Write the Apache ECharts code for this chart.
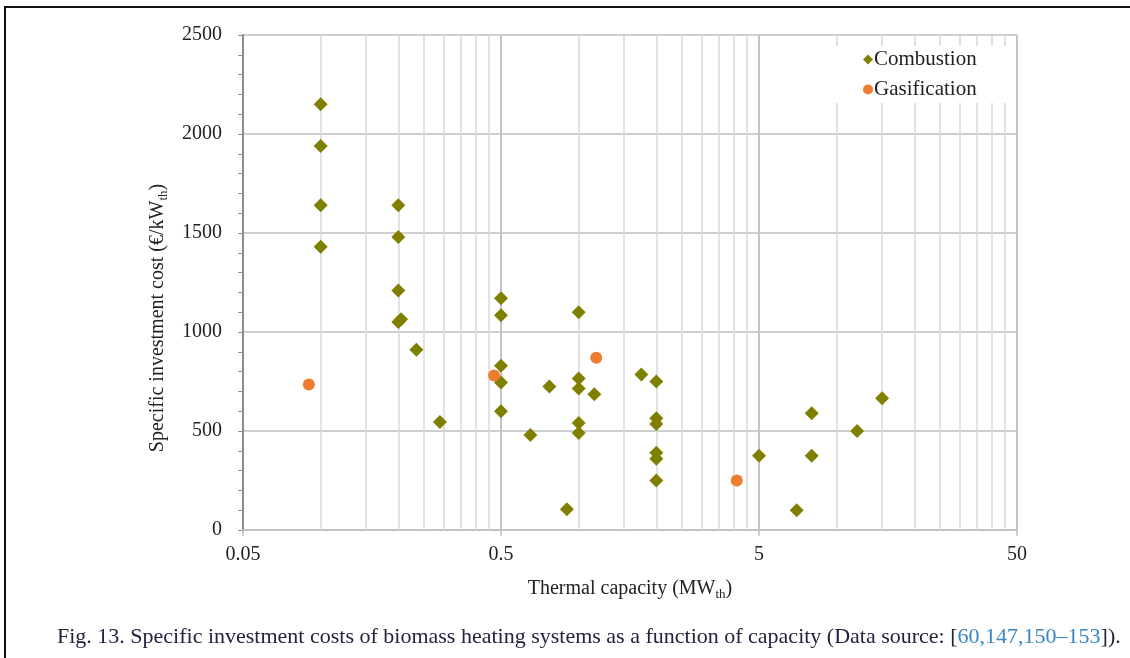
<!DOCTYPE html>
<html>
<head>
<meta charset="utf-8">
<script src="https://cdn.jsdelivr.net/npm/echarts@6/dist/echarts.min.js"></script>
<style>html,body{margin:0;padding:0;background:#fff}#c{width:1130px;height:658px}</style>
</head>
<body>
<div id="c"></div>
<script>
// Data
var combustionX = [0.1,0.1,0.1,0.1, 0.2,0.2,0.2,0.2,0.205, 0.235, 0.29, 0.5,0.5,0.5,0.5,0.5, 0.65, 0.77, 0.9, 1,1,1,1,1, 1.15, 1.75, 2,2,2,2,2,2, 5, 7, 8,8, 12, 15];
var combustionY = [2150,1940,1640,1430, 1640,1480,1210,1050,1065, 910, 545, 1170,1085,830,745,600, 480, 725, 105, 1100,765,715,540,490, 685, 785, 750,565,535,390,360,250, 375, 100, 590,375, 500, 665];
var gasificationX = [0.09, 0.47, 1.17, 4.1];
var gasificationY = [735, 780, 870, 250];
var xMajorTicks = [0.05, 0.5, 5, 50];
var xMinorGrid = [0.1,0.15,0.2,0.25,0.3,0.35,0.4,0.45, 1,1.5,2,2.5,3,3.5,4,4.5, 10,15,20,25,30,35,40,45];
var xMajorGrid = [0.5, 5, 50];

var FONT = '"Liberation Serif", "Times New Roman", serif';
function pairs(xs, ys){ return xs.map(function(x,i){ return [x, ys[i]]; }); }

var gridLines = xMinorGrid.map(function(v){ return {xAxis: v, lineStyle: {color: '#d9d9d9', width: 1.5, type: 'solid'}}; })
  .concat(xMajorGrid.map(function(v){ return {xAxis: v, lineStyle: {color: '#c4c4c4', width: 2, type: 'solid'}}; }));

var chart = echarts.init(document.getElementById('c'), null, {renderer: 'canvas'});
chart.setOption({
  animation: false,
  backgroundColor: '#fff',
  textStyle: {fontFamily: FONT},
  grid: {left: 243, right: 113, top: 35, bottom: 128, containLabel: false},
  title: {
    left: 52, top: 621,
    text: '{a|Fig. 13. Specific investment costs of biomass heating systems as a function of capacity (Data source: [}{b|60,147,150–153}{a|]).}',
    textStyle: {
      fontWeight: 'normal',
      rich: {
        a: {fontFamily: FONT, fontSize: 22, fontWeight: 'normal', color: '#25223f'},
        b: {fontFamily: FONT, fontSize: 22, fontWeight: 'normal', color: '#3a86c2'}
      }
    }
  },
  legend: {
    orient: 'vertical', left: 830, top: 46,
    padding: [3, 34, 3, 33], itemGap: 9,
    backgroundColor: '#fff',
    itemWidth: 10, itemHeight: 10,
    data: ['Combustion', 'Gasification'],
    textStyle: {fontFamily: FONT, fontSize: 21, color: '#222', padding: [0,0,0,-4]}
  },
  xAxis: {
    type: 'log', logBase: 10, min: 0.05, max: 50,
    name: '{a|Thermal capacity (MW}{s|th}{a|)}',
    nameLocation: 'middle', nameGap: 47,
    nameTextStyle: {
      rich: {
        a: {fontFamily: FONT, fontSize: 20, color: '#222', lineHeight: 24},
        s: {fontFamily: FONT, fontSize: 13, color: '#222', verticalAlign: 'bottom', lineHeight: 12}
      }
    },
    axisLine: {show: true, onZero: false, lineStyle: {color: '#bfbfbf', width: 1.5}},
    axisTick: {show: true, customValues: xMajorTicks, length: 6, lineStyle: {color: '#bfbfbf', width: 1.5}},
    axisLabel: {
      customValues: xMajorTicks, margin: 15, fontFamily: FONT, fontSize: 20, color: '#222',
      formatter: function(v){ return String(Number(Number(v).toPrecision(6))); }
    },
    splitLine: {show: false},
    minorTick: {show: false}, minorSplitLine: {show: false}
  },
  yAxis: {
    type: 'value', min: 0, max: 2500, interval: 500,
    axisLine: {show: true, lineStyle: {color: '#8c8c8c', width: 2}},
    axisTick: {show: true, length: 5, lineStyle: {color: '#8c8c8c', width: 1}},
    minorTick: {show: true, splitNumber: 5, length: 5, lineStyle: {color: '#8c8c8c', width: 1}},
    splitLine: {show: true, lineStyle: {color: '#bfbfbf', width: 1.5}},
    axisLabel: {margin: 21, fontFamily: FONT, fontSize: 20, color: '#222',
      formatter: function(v){ return String(v); }}
  },
  graphic: [
    {type: 'rect', z: 100, silent: true, shape: {x: 5, y: 7, width: 1300, height: 800},
     style: {fill: 'none', stroke: '#111', lineWidth: 2}},
    {type: 'text', z: 100, x: 158, y: 318, rotation: Math.PI / 2,
     style: {
       text: '{a|Specific investment cost (€/kW}{s|th}{a|)}',
       align: 'center', verticalAlign: 'middle',
       rich: {
         a: {fontFamily: FONT, fontSize: 20, fill: '#222', lineHeight: 24},
         s: {fontFamily: FONT, fontSize: 13, fill: '#222', verticalAlign: 'bottom', lineHeight: 12}
       }
     }}
  ],
  series: [
    {
      name: 'Combustion', type: 'scatter', z: 3,
      symbol: 'diamond', symbolSize: 14,
      itemStyle: {color: '#808000', opacity: 1},
      data: pairs(combustionX, combustionY),
      markLine: {
        silent: true, symbol: 'none', z: 1, animation: false,
        label: {show: false}, emphasis: {disabled: true},
        data: gridLines
      }
    },
    {
      name: 'Gasification', type: 'scatter', z: 3,
      symbol: 'circle', symbolSize: 12,
      itemStyle: {color: '#ed7d31', opacity: 1},
      data: pairs(gasificationX, gasificationY)
    }
  ]
});
</script>
</body>
</html>
